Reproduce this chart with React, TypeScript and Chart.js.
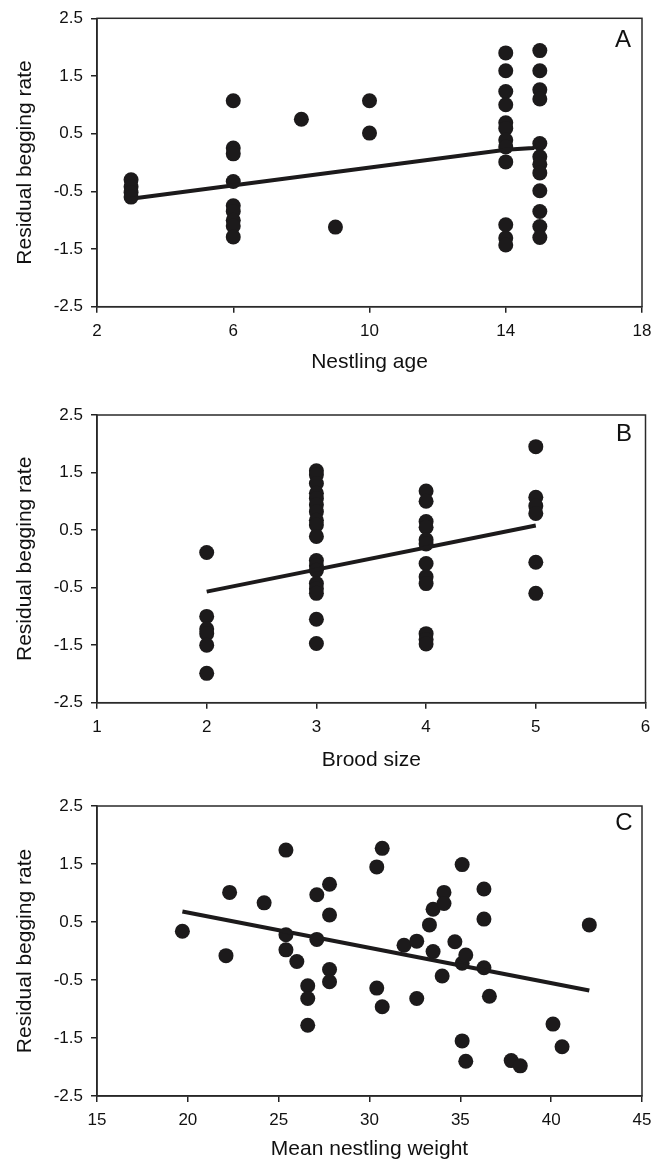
import React, { useEffect, useRef } from "react";
import { Chart, registerables } from "chart.js";
Chart.register(...registerables);

// ---------- data ----------
const yTicks = [-2.5, -1.5, -0.5, 0.5, 1.5, 2.5];

// Panel A: nestling age
const ageTicks = [2, 6, 10, 14, 18];
const ageX = [3, 3, 3, 3,
  6, 6, 6, 6, 6, 6, 6, 6, 6,
  8, 9, 10, 10,
  14, 14, 14, 14, 14, 14, 14, 14, 14, 14, 14, 14,
  15, 15, 15, 15, 15, 15, 15, 15, 15, 15, 15, 15];
const ageY = [-0.3, -0.42, -0.52, -0.6,
  1.07, 0.25, 0.15, -0.33, -0.75, -0.85, -1.0, -1.1, -1.29,
  0.75, -1.12, 1.07, 0.51,
  1.9, 1.59, 1.23, 1.0, 0.69, 0.59, 0.39, 0.27, 0.01, -1.08, -1.31, -1.43,
  1.94, 1.59, 1.26, 1.1, 0.33, 0.1, -0.03, -0.18, -0.49, -0.85, -1.11, -1.3];
const ageFitX = [3, 14, 14.8, 15];
const ageFitY = [-0.63, 0.22, 0.25, 0.33];

// Panel B: brood size
const broodTicks = [1, 2, 3, 4, 5, 6];
const broodX = [2, 2, 2, 2, 2, 2,
  3, 3, 3, 3, 3, 3, 3, 3, 3, 3, 3, 3, 3, 3, 3, 3, 3, 3,
  4, 4, 4, 4, 4, 4, 4, 4, 4, 4, 4, 4,
  5, 5, 5, 5, 5, 5];
const broodY = [0.11, -1.0, -1.22, -1.3, -1.5, -1.99,
  1.53, 1.46, 1.31, 1.14, 1.05, 0.94, 0.82, 0.67, 0.59, 0.39, -0.03, -0.12, -0.2, -0.43, -0.52, -0.6, -1.05, -1.47,
  1.18, 1.0, 0.65, 0.55, 0.33, 0.26, -0.08, -0.31, -0.43, -1.3, -1.4, -1.48,
  1.95, 1.07, 0.92, 0.79, -0.06, -0.6];
const broodFitX = [2, 5];
const broodFitY = [-0.57, 0.58];

// Panel C: mean nestling weight
const weightTicks = [15, 20, 25, 30, 35, 40, 45];
const weightX = [19.7, 22.3, 22.1, 24.2, 25.4, 25.4, 25.4, 26.0, 26.6, 26.6, 26.6, 27.1, 27.1,
  27.8, 27.8, 27.8, 27.8, 30.4, 30.4, 30.7, 30.7, 31.9, 32.6, 32.6, 33.3, 33.5, 33.5,
  34.1, 34.1, 34.0, 34.7, 35.1, 35.1, 35.3, 35.1, 35.3, 36.3, 36.3, 36.3, 36.6,
  37.8, 38.3, 40.1, 40.6, 42.1];
const weightY = [0.34, 1.01, -0.08, 0.83, 1.74, 0.28, 0.02, -0.18, -0.6, -0.82, -1.28, 0.97, 0.2,
  1.15, 0.62, -0.32, -0.53, 1.45, -0.64, 1.77, -0.96, 0.1, 0.17, -0.82, 0.45, 0.72, -0.01,
  1.01, 0.82, -0.43, 0.16, 1.49, -0.21, -0.07, -1.55, -1.9, 1.07, 0.55, -0.29, -0.78,
  -1.89, -1.98, -1.26, -1.65, 0.45];
const weightFitX = [19.7, 42.1];
const weightFitY = [0.68, -0.68];

// ---------- drawing ----------
const FONT = "'Liberation Sans', Arial, Helvetica, sans-serif";
const INK = "#1c1a1b";

type PanelSpec = {
  top: number; height: number;
  area: { left: number; right: number; top: number; bottom: number };
  xTicks: number[]; xs: number[]; ys: number[]; fx: number[]; fy: number[];
  xTitle: string; letter: string; letterPos: [number, number]; titlePadBottom: number;
};

const panels: PanelSpec[] = [
  { top: 0, height: 385, area: { left: 97, right: 642, top: 18.3, bottom: 306.7 },
    xTicks: ageTicks, xs: ageX, ys: ageY, fx: ageFitX, fy: ageFitY,
    xTitle: "Nestling age", letter: "A", letterPos: [623, 40.5], titlePadBottom: 10 },
  { top: 385, height: 390, area: { left: 97, right: 647.5, top: 30, bottom: 317.7 },
    xTicks: broodTicks, xs: broodX, ys: broodY, fx: broodFitX, fy: broodFitY,
    xTitle: "Brood size", letter: "B", letterPos: [624, 49], titlePadBottom: 2 },
  { top: 775, height: 387, area: { left: 97, right: 642, top: 31, bottom: 321 },
    xTicks: weightTicks, xs: weightX, ys: weightY, fx: weightFitX, fy: weightFitY,
    xTitle: "Mean nestling weight", letter: "C", letterPos: [624, 48], titlePadBottom: 0 },
];

function Panel({ spec }: { spec: PanelSpec }) {
  const ref = useRef<HTMLCanvasElement>(null);
  useEffect(() => {
    const { area, height } = spec;
    const tickFont = { family: FONT, size: 17 };
    const titleFont = { family: FONT, size: 21 };
    const framePlugin = {
      id: "frame" + spec.letter,
      afterDraw(chart: any) {
        const { ctx, chartArea: a } = chart;
        ctx.save();
        ctx.strokeStyle = "#2a2a2a";
        ctx.lineWidth = 1.5;
        ctx.strokeRect(a.left, a.top, a.right - a.left, a.bottom - a.top);
        ctx.fillStyle = "#111";
        ctx.font = `24px ${FONT}`;
        ctx.textAlign = "center";
        ctx.textBaseline = "middle";
        ctx.fillText(spec.letter, spec.letterPos[0], spec.letterPos[1]);
        ctx.restore();
      },
    };
    const chart = new Chart(ref.current!, {
      type: "scatter",
      data: {
        datasets: [
          {
            data: spec.fx.map((x, i) => ({ x, y: spec.fy[i] })),
            showLine: true,
            borderColor: INK,
            borderWidth: 4,
            pointRadius: 0,
            fill: false,
          } as any,
          {
            data: spec.xs.map((x, i) => ({ x, y: spec.ys[i] })),
            pointStyle: "circle",
            pointRadius: 7.5,
            borderWidth: 0,
            backgroundColor: INK,
            borderColor: INK,
          },
        ],
      },
      plugins: [framePlugin],
      options: {
        responsive: false,
        animation: false,
        events: [],
        layout: { padding: { left: 0, top: area.top, right: 653 - area.right, bottom: 0 } },
        plugins: { legend: { display: false }, tooltip: { enabled: false } },
        scales: {
          x: {
            type: "linear",
            min: spec.xTicks[0],
            max: spec.xTicks[spec.xTicks.length - 1],
            afterBuildTicks: (s: any) => { s.ticks = spec.xTicks.map((v) => ({ value: v })); },
            afterFit: (s: any) => {
              s.height = height - area.bottom;
              s.paddingLeft = 0;
              s.paddingRight = 0;
            },
            ticks: { autoSkip: false, maxRotation: 0, font: tickFont, color: "#111", padding: 8, callback: (v: any) => String(v) },
            grid: { display: true, drawOnChartArea: false, drawTicks: true, tickLength: 6, color: "#222", lineWidth: 1.5 },
            border: { display: true, color: "#222", width: 1.5 },
            title: { display: true, text: spec.xTitle, font: titleFont, color: "#111", padding: { top: 0, bottom: spec.titlePadBottom } },
          },
          y: {
            type: "linear",
            min: -2.5,
            max: 2.5,
            afterBuildTicks: (s: any) => { s.ticks = yTicks.map((v) => ({ value: v })); },
            afterFit: (s: any) => {
              s.width = area.left;
              s.paddingTop = 0;
              s.paddingBottom = 0;
            },
            ticks: { autoSkip: false, font: tickFont, color: "#111", padding: 8, callback: (v: any) => String(v) },
            grid: { display: true, drawOnChartArea: false, drawTicks: true, tickLength: 6, color: "#222", lineWidth: 1.5 },
            border: { display: true, color: "#222", width: 1.5 },
            title: { display: true, text: "Residual begging rate", font: titleFont, color: "#111", padding: { top: 13, bottom: 0 } },
          },
        },
      } as any,
    });
    return () => chart.destroy();
  }, [spec]);
  return (
    <canvas
      ref={ref}
      width={653}
      height={spec.height}
      style={{ position: "absolute", left: 0, top: spec.top, width: 653, height: spec.height }}
    />
  );
}

export default function App() {
  return (
    <div style={{ position: "absolute", left: 0, top: 0, width: 653, height: 1162, background: "#fff", overflow: "hidden" }}>
      {panels.map((p) => (
        <Panel key={p.letter} spec={p} />
      ))}
    </div>
  );
}
